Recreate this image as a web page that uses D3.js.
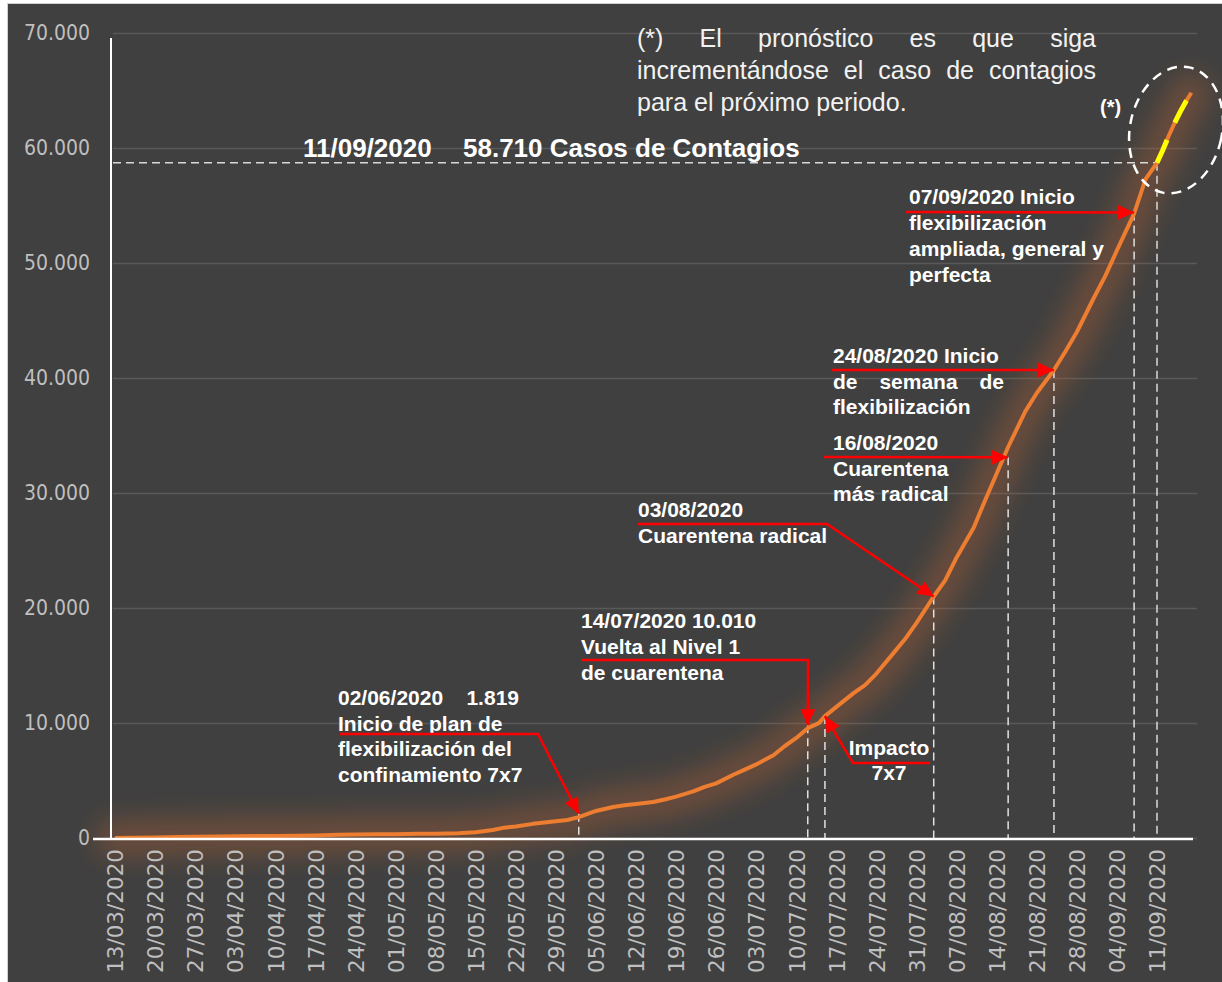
<!DOCTYPE html>
<html>
<head>
<meta charset="utf-8">
<script src="https://cdn.jsdelivr.net/npm/d3@7/dist/d3.min.js"></script>
<style>
body { margin: 0; background: #ffffff; }
.note { font-family: "Liberation Sans", Arial, sans-serif; font-weight: bold; font-size: 21px; fill: #ffffff; white-space: pre; }
.tick text { font-family: "DejaVu Sans Condensed", "DejaVu Sans", sans-serif; font-stretch: condensed; fill: #bfbfbf; }
</style>
</head>
<body>
<script>
// casos acumulados (lectura aproximada del grafico)
var dates = ["13/03/2020","16/03/2020","20/03/2020","24/03/2020","27/03/2020","31/03/2020","03/04/2020","07/04/2020",
	"10/04/2020","14/04/2020","17/04/2020","21/04/2020","24/04/2020","28/04/2020","01/05/2020","05/05/2020","08/05/2020",
	"12/05/2020","15/05/2020","18/05/2020","20/05/2020","22/05/2020","25/05/2020","27/05/2020","29/05/2020","31/05/2020",
	"02/06/2020","05/06/2020","08/06/2020","10/06/2020","12/06/2020","15/06/2020","17/06/2020","19/06/2020","22/06/2020",
	"24/06/2020","26/06/2020","29/06/2020","01/07/2020","03/07/2020","06/07/2020","08/07/2020","10/07/2020","12/07/2020",
	"14/07/2020","15/07/2020","17/07/2020","20/07/2020","22/07/2020","24/07/2020","27/07/2020","29/07/2020","31/07/2020",
	"03/08/2020","05/08/2020","07/08/2020","10/08/2020","12/08/2020","14/08/2020","16/08/2020","19/08/2020","21/08/2020",
	"24/08/2020","26/08/2020","28/08/2020","31/08/2020","02/09/2020","04/09/2020","07/09/2020","09/09/2020","11/09/2020"];
var cases = [2,17,42,84,107,135,146,166,
	171,189,227,285,311,329,333,361,379,
	423,500,700,900,1000,1230,1350,1450,1565,
	1819,2350,2700,2850,2950,3130,3350,3600,4050,
	4450,4750,5500,5950,6400,7200,8000,8700,9550,
	10010,10600,11400,12600,13300,14300,16100,17300,18700,
	21000,22400,24400,27000,29400,31700,34000,37100,38700,
	40700,42300,44000,47000,48900,51100,54300,57300,58710];

// pronostico (*)
var forecastDates = ["11/09/2020","12/09/2020","13/09/2020","14/09/2020","15/09/2020","16/09/2020","17/09/2020"];
var forecastCases = [58710,59800,61000,62100,63100,64000,64800];

var yTicks = [0,10000,20000,30000,40000,50000,60000,70000];
var xTickLabels = ["13/03/2020","20/03/2020","27/03/2020","03/04/2020","10/04/2020","17/04/2020","24/04/2020",
	"01/05/2020","08/05/2020","15/05/2020","22/05/2020","29/05/2020","05/06/2020","12/06/2020","19/06/2020",
	"26/06/2020","03/07/2020","10/07/2020","17/07/2020","24/07/2020","31/07/2020","07/08/2020","14/08/2020",
	"21/08/2020","28/08/2020","04/09/2020","11/09/2020"];

var noteDates = ["02/06/2020","12/07/2020","15/07/2020","03/08/2020","16/08/2020","24/08/2020","07/09/2020"];
var noteTips = [2100,9800,10600,21000,33100,40700,54400];
var noteTexts = [
	["02/06/2020    1.819","Inicio de plan de","flexibilización del","confinamiento 7x7"],
	["14/07/2020 10.010","Vuelta al Nivel 1","de cuarentena"],
	["Impacto","7x7"],
	["03/08/2020","Cuarentena radical"],
	["16/08/2020","Cuarentena","más radical"],
	["24/08/2020 Inicio","de semana de","flexibilización"],
	["07/09/2020 Inicio","flexibilización","ampliada, general y","perfecta"]
];

var lastDate = "11/09/2020";
var lastCases = 58710;

var width = 1222;
var height = 982;

var parse = d3.timeParse("%d/%m/%Y");
var fmtY = d3.formatLocale({decimal: ",", thousands: ".", grouping: [3], currency: ["", ""]}).format(",d");

var x = d3.scaleTime()
	.domain([parse("13/03/2020"), parse("11/09/2020")])
	.range([115, 1157]);
var y = d3.scaleLinear()
	.domain([0, 70000])
	.range([838, 33]);

var series = dates.map(function(d, i) { return {date: parse(d), value: cases[i]}; });
var forecast = forecastDates.map(function(d, i) { return {date: parse(d), value: forecastCases[i]}; });

var svg = d3.select("body").append("svg")
	.attr("width", width)
	.attr("height", height);

var defs = svg.append("defs");
defs.append("filter")
	.attr("id", "glow")
	.attr("x", "-20%").attr("y", "-20%").attr("width", "140%").attr("height", "140%")
	.append("feGaussianBlur")
	.attr("stdDeviation", 12);
defs.append("marker")
	.attr("id", "arrowRed")
	.attr("markerUnits", "userSpaceOnUse")
	.attr("markerWidth", 18)
	.attr("markerHeight", 16)
	.attr("refX", 16)
	.attr("refY", 7.5)
	.attr("orient", "auto")
	.append("path")
	.attr("d", "M0,0 L16,7.5 L0,15 Z")
	.attr("fill", "#ff0000");

// fondo
svg.append("rect")
	.attr("x", 7.5).attr("y", 3.5)
	.attr("width", width + 20).attr("height", height + 20)
	.attr("fill", "#404040")
	.attr("stroke", "#d0d0d0");

// rejilla
svg.append("g")
	.attr("transform", "translate(113,0)")
	.call(d3.axisLeft(y).tickValues(yTicks).tickSize(-1084).tickFormat(""))
	.call(function(g) {
		g.select(".domain").remove();
		g.selectAll("line").attr("stroke", "#595959").attr("stroke-width", 1.5);
	});

// eje y
svg.append("g")
	.attr("transform", "translate(111,0)")
	.call(d3.axisLeft(y).tickValues(yTicks).tickSize(0).tickPadding(21).tickFormat(fmtY))
	.call(function(g) {
		g.select(".domain").remove();
		g.selectAll("text").style("font-size", "21px");
	});

// linea de contagio con brillo
var line = d3.line()
	.x(function(d) { return x(d.date); })
	.y(function(d) { return y(d.value); });

svg.append("path")
	.datum(series.concat(forecast.slice(1)))
	.attr("d", line)
	.attr("fill", "none")
	.attr("stroke", "#C8682A")
	.attr("stroke-width", 40)
	.attr("stroke-opacity", 0.3)
	.attr("stroke-linejoin", "round")
	.attr("stroke-linecap", "round")
	.attr("filter", "url(#glow)");

// referencias 11/09
svg.append("line")
	.attr("x1", 113).attr("x2", x(parse(lastDate)))
	.attr("y1", y(lastCases)).attr("y2", y(lastCases))
	.attr("stroke", "#d9d9d9").attr("stroke-width", 1.5).attr("stroke-dasharray", "8,5");
svg.append("line")
	.attr("x1", x(parse(lastDate))).attr("x2", x(parse(lastDate)))
	.attr("y1", y(lastCases)).attr("y2", y(0))
	.attr("stroke", "#d9d9d9").attr("stroke-width", 1.5).attr("stroke-dasharray", "8,5");

svg.append("g")
	.selectAll("line")
	.data(noteDates)
	.enter().append("line")
	.attr("x1", function(d) { return x(parse(d)); })
	.attr("x2", function(d) { return x(parse(d)); })
	.attr("y1", function(d, i) { return y(noteTips[i]); })
	.attr("y2", y(0))
	.attr("stroke", "#e0e0e0").attr("stroke-width", 1.5).attr("stroke-dasharray", "8,5");

svg.append("path")
	.datum(series)
	.attr("d", line)
	.attr("fill", "none")
	.attr("stroke", "#ED7D31")
	.attr("stroke-width", 4)
	.attr("stroke-linejoin", "round");
svg.append("path")
	.datum(forecast)
	.attr("d", line)
	.attr("fill", "none")
	.attr("stroke", "#ED7D31")
	.attr("stroke-width", 4);
svg.append("path")
	.datum(forecast)
	.attr("d", line)
	.attr("fill", "none")
	.attr("stroke", "#FFFF00")
	.attr("stroke-width", 5)
	.attr("stroke-dasharray", "25,19");

// ejes
svg.append("line")
	.attr("x1", 111).attr("x2", 111)
	.attr("y1", 38).attr("y2", y(0) + 1)
	.attr("stroke", "#ffffff").attr("stroke-width", 2);

svg.append("g")
	.attr("transform", "translate(0," + (y(0) + 1) + ")")
	.call(d3.axisBottom(x).tickValues(xTickLabels.map(parse)).tickSize(0).tickFormat(d3.timeFormat("%d/%m/%Y")))
	.call(function(g) {
		g.select(".domain").attr("d", "M93,0H1193").attr("stroke", "#ffffff").attr("stroke-width", 2.5);
		g.selectAll("text")
			.attr("transform", "rotate(-90)")
			.attr("x", -10)
			.attr("y", 0)
			.attr("dy", "0.36em")
			.attr("text-anchor", "end")
			.style("font-family", "'DejaVu Sans', sans-serif")
			.style("font-stretch", "normal")
			.style("font-size", "21.5px");
	});

// anotaciones
var noteLayout = [
	{tx: 338, ty: 705, lh: 25.5, path: [[340, 734], [538, 734]]},
	{tx: 581, ty: 628, lh: 26, path: [[581, 660], [808, 660]]},
	{tx: 889, ty: 755, lh: 25, anchor: "middle", path: [[930, 763], [853, 763]]},
	{tx: 638, ty: 517, lh: 26, path: [[638, 524], [827, 524]]},
	{tx: 833, ty: 450, lh: 25.5, path: [[824, 457]]},
	{tx: 833, ty: 363, lh: 25.5, path: [[832, 370]], justify: 1004},
	{tx: 909, ty: 204, lh: 26, path: [[906, 212]]}
];

noteTexts.forEach(function(lines, i) {
	var l = noteLayout[i];
	lines.forEach(function(t, j) {
		if (l.justify && j === 1) {
			justify(svg, t, l.tx, l.justify, l.ty + j * l.lh, "note");
			return;
		}
		svg.append("text")
			.attr("class", "note")
			.attr("x", l.tx)
			.attr("y", l.ty + j * l.lh)
			.attr("text-anchor", l.anchor || "start")
			.text(t);
	});
	var pts = l.path.concat([[x(parse(noteDates[i])), y(noteTips[i])]]);
	svg.append("path")
		.attr("d", d3.line()(pts))
		.attr("fill", "none")
		.attr("stroke", "#ff0000")
		.attr("stroke-width", 2.5)
		.attr("marker-end", "url(#arrowRed)");
});

// titulo del ultimo dato
svg.append("text")
	.attr("class", "note")
	.attr("x", 303).attr("y", 157)
	.style("font-size", "26px")
	.text(lastDate);
svg.append("text")
	.attr("class", "note")
	.attr("x", 463).attr("y", 157)
	.style("font-size", "26px")
	.text(fmtY(lastCases) + " Casos de Contagios");

// nota del pronostico
var forecastNote = ["(*)  El  pronóstico  es  que  siga", "incrementándose el caso de contagios", "para el próximo periodo."];
forecastNote.forEach(function(t, j) {
	if (j < 2) {
		justify(svg, t, 637, 1096, 47 + j * 32, "fnote");
	} else {
		svg.append("text").attr("class", "fnote").attr("x", 637).attr("y", 47 + j * 32).text(t);
	}
});
svg.selectAll(".fnote")
	.style("font-family", "'Liberation Sans', Arial, sans-serif")
	.style("font-size", "25px")
	.style("fill", "#f2f2f2");

svg.append("text")
	.attr("class", "note")
	.attr("x", 1100).attr("y", 114)
	.style("font-size", "20px")
	.text("(*)");

svg.append("ellipse")
	.attr("cx", 1176).attr("cy", 130)
	.attr("rx", 46).attr("ry", 64)
	.attr("transform", "rotate(12,1176,130)")
	.attr("fill", "none")
	.attr("stroke", "#ffffff")
	.attr("stroke-width", 2.5)
	.attr("stroke-dasharray", "10,7");

function justify(parent, str, x0, x1, yy, cls) {
	var words = str.split(/\s+/);
	var nodes = words.map(function(w) {
		return parent.append("text").attr("class", cls).attr("y", yy).text(w);
	});
	if (cls === "fnote") {
		nodes.forEach(function(n) {
			n.style("font-family", "'Liberation Sans', Arial, sans-serif").style("font-size", "25px");
		});
	}
	var widths = nodes.map(function(n) { return n.node().getComputedTextLength(); });
	var total = d3.sum(widths);
	var gap = words.length > 1 ? (x1 - x0 - total) / (words.length - 1) : 0;
	var cx = x0;
	nodes.forEach(function(n, i) {
		n.attr("x", cx);
		cx += widths[i] + gap;
	});
}
</script>
</body>
</html>
